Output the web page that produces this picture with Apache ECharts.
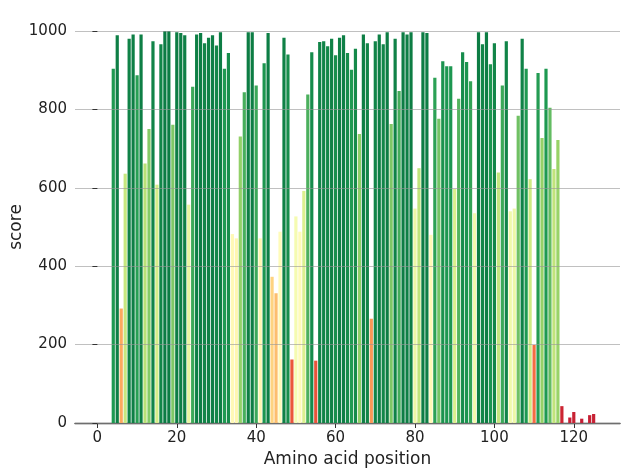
<!DOCTYPE html>
<html>
<head>
<meta charset="utf-8">
<script src="https://cdn.jsdelivr.net/npm/echarts@6/dist/echarts.min.js"></script>
<style>
  html, body { margin: 0; padding: 0; background: #fff; }
  #chart { width: 621px; height: 470px; }
</style>
</head>
<body>
<div id="chart"></div>
<script>
// amino acid positions 1..125 and their scores (0 = no bar)
const positions = Array.from({ length: 125 }, (_, i) => i + 1);
const scores = [
  0, 0, 0, 904, 989, 292, 636, 980, 991, 887,
  991, 662, 750, 974, 608, 966, 1000, 1000, 761, 997,
  995, 989, 557, 858, 991, 995, 969, 983, 989, 963,
  997, 904, 944, 482, 471, 731, 844, 997, 997, 861,
  471, 918, 995, 373, 331, 488, 983, 940, 162, 527,
  488, 592, 838, 946, 159, 972, 974, 961, 980, 938,
  983, 989, 944, 901, 955, 737, 991, 969, 266, 974,
  991, 966, 997, 763, 980, 847, 997, 991, 997, 547,
  650, 997, 995, 480, 881, 776, 923, 910, 910, 597,
  827, 946, 921, 872, 535, 997, 966, 997, 915, 969,
  639, 861, 974, 540, 547, 784, 980, 904, 622, 199,
  893, 727, 904, 804, 648, 722, 43, 0, 14, 28,
  0, 11, 0, 20, 23
];
const xTicks = [0, 20, 40, 60, 80, 100, 120];

// RdYlGn, ends a little lighter to match the picture
const rdYlGn = ['#c21c36', '#d9302c', '#f46d43', '#fdae61', '#fee08b', '#ffffbf',
  '#d9ef8b', '#a6d96a', '#66bd63', '#1f9a52', '#0c7c44'];

const barData = positions
  .map((p, i) => [p, scores[i]])
  .filter(d => d[1] > 0);

const chart = echarts.init(document.getElementById('chart'));

chart.setOption({
  animation: false,
  textStyle: { fontFamily: 'DejaVu Sans' },
  grid: { left: 75, right: 1, top: 31, bottom: 47, outerBoundsMode: 'none', containLabel: false },
  visualMap: {
    show: false,
    type: 'continuous',
    min: 0,
    max: 1000,
    dimension: 1,
    inRange: { color: rdYlGn }
  },
  xAxis: {
    type: 'value',
    min: -5.64,
    max: 131.64,
    name: 'Amino acid position',
    nameLocation: 'middle',
    nameGap: 28,
    nameMoveOverlap: false,
    nameTextStyle: { fontSize: 17, color: '#222' },
    axisLine: { show: true, lineStyle: { color: '#333', width: 1.3 } },
    axisTick: { show: true, customValues: xTicks, length: 5, lineStyle: { color: '#333' } },
    axisLabel: { customValues: xTicks, fontSize: 15, color: '#222', margin: 8 },
    splitLine: { show: false }
  },
  yAxis: {
    type: 'value',
    min: 0,
    max: 1000,
    interval: 200,
    z: 3,
    name: 'score',
    nameLocation: 'middle',
    nameGap: 50,
    nameMoveOverlap: false,
    nameTextStyle: { fontSize: 17, color: '#222' },
    axisLine: { show: false },
    axisTick: { show: true, length: 5, lineStyle: { color: '#333' } },
    axisLabel: { fontSize: 15, color: '#222', margin: 8, formatter: v => String(v) },
    splitLine: { show: true, lineStyle: { color: 'rgba(150,150,150,0.6)', width: 1.2 } }
  },
  series: [{
    type: 'bar',
    barWidth: 3.2,
    data: barData
  }]
});
</script>
</body>
</html>
